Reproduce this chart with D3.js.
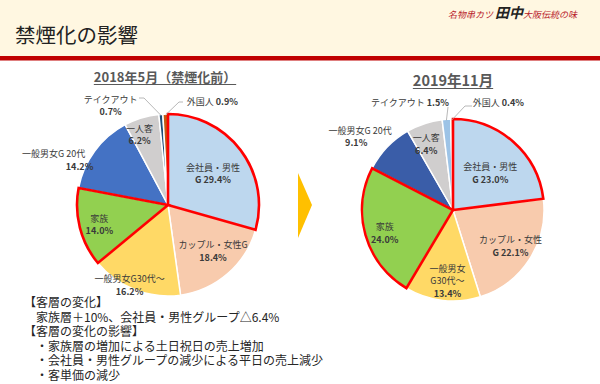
<!DOCTYPE html>
<html>
<head>
  <meta charset="utf-8">
  <title>禁煙化の影響</title>
  <style>
    body { margin: 0; background: #fff; }
    svg { display: block; font-family: "Noto Sans CJK JP", "Noto Sans", sans-serif; }
    .lbl { font-size: 9px; fill: #3a3a3a; }
    .pct { font-size: 9px; fill: #3a3a3a; font-weight: bold; }
    .note { font-size: 12px; fill: #262626; }
  </style>
</head>
<body>
  <svg width="600" height="384"></svg>

  <script src="https://d3js.org/d3.v7.min.js"></script>
  <script>
    // customer segments, clockwise from 12 o'clock
    var categories = ['会社員・男性G', 'カップル・女性G', '一般男女G30代～', '家族', '一般男女G 20代', '一人客', 'テイクアウト', '外国人'];
    var values2018 = [29.4, 18.4, 16.2, 14.0, 14.2, 6.2, 0.7, 0.9];
    var values2019 = [23.0, 22.1, 13.4, 24.0, 9.1, 6.4, 1.5, 0.4];
    var colors2018 = ['#BDD7EE', '#F8CBAD', '#FFD966', '#92D050', '#4472C4', '#D0CECE', '#1F4E79', '#C55A11'];
    var colors2019 = ['#BDD7EE', '#F8CBAD', '#FFD966', '#92D050', '#3A5DA8', '#D0CECE', '#9DC3E6', '#F4B183'];
    var highlighted = ['会社員・男性G', '家族'];

    // label text lines per pie (the % part is filled from the values)
    var labels2018 = [
      ['会社員・男性', 'G {v}'], ['カップル・女性G', '{v}'], ['一般男女G30代～', '{v}'], ['家族', '{v}'],
      ['一般男女G  20代', '{v}'], ['一人客', '{v}'], ['テイクアウト', '{v}'], ['外国人 {v}']
    ];
    var labels2019 = [
      ['会社員・男性', 'G {v}'], ['カップル・女性', 'G {v}'], ['一般男女', 'G30代～', '{v}'], ['家族', '{v}'],
      ['一般男女G  20代', '{v}'], ['一人客', '{v}'], ['テイクアウト {v}'], ['外国人 {v}']
    ];

    var notes = [
      '【客層の変化】',
      '　家族層＋10%、会社員・男性グループ△6.4%',
      '【客層の変化の影響】',
      '　・家族層の増加による土日祝日の売上増加',
      '　・会社員・男性グループの減少による平日の売上減少',
      '　・客単価の減少'
    ];

    var svg = d3.select('svg');

    // header band
    svg.append('rect').attr('x', 0).attr('y', 0).attr('width', 600).attr('height', 57).attr('fill', '#FFF7E1');
    svg.append('rect').attr('x', 0).attr('y', 56).attr('width', 600).attr('height', 4.5).attr('fill', '#C00000');
    svg.append('text').attr('x', 15).attr('y', 43)
      .style('font-size', '20.5px').style('fill', '#222')
      .text('禁煙化の影響');

    var logo = svg.append('text').attr('x', 448).attr('y', 18)
      .style('fill', '#B8202A').style('font-style', 'italic');
    logo.append('tspan').style('font-size', '9px').text('名物串カツ ');
    logo.append('tspan').style('font-size', '14px').style('font-weight', 'bold').style('fill', '#222').text('田中');
    logo.append('tspan').style('font-size', '9px').text('大阪伝統の味');

    // arrow between pies
    svg.append('path').attr('d', 'M298,173L312,205L298,238Z').attr('fill', '#FFC000');

    var radius = 91;
    var pie = d3.pie().sort(null).value(function(d) { return d; });
    var arc = d3.arc().innerRadius(0).outerRadius(radius);
    var labelArc = d3.arc().innerRadius(radius * 0.62).outerRadius(radius * 0.62);
    var edgeArc = d3.arc().innerRadius(radius).outerRadius(radius);

    function drawPie(opts) {
      var g = svg.append('g').attr('transform', 'translate(' + opts.cx + ',' + opts.cy + ')');
      var arcs = pie(opts.values);

      g.selectAll('path.slice').data(arcs).join('path')
        .attr('class', 'slice')
        .attr('d', arc)
        .attr('fill', function(d, i) { return opts.colors[i]; })
        .attr('stroke', '#fff').attr('stroke-width', 1.5);

      g.selectAll('path.hl').data(arcs.filter(function(d, i) { return highlighted.indexOf(categories[i]) >= 0; }))
        .join('path')
        .attr('class', 'hl')
        .attr('d', arc)
        .attr('fill', 'none')
        .attr('stroke', '#FF0000').attr('stroke-width', 2.6).attr('stroke-linejoin', 'miter');

      // title
      var t = svg.append('text').attr('x', opts.cx + opts.titleDx).attr('y', opts.titleY)
        .attr('text-anchor', 'middle')
        .style('font-size', opts.titleSize).style('font-weight', 'bold').style('fill', '#595959')
        .text(opts.title);
      var bb = t.node().getBBox();
      svg.append('line').attr('x1', bb.x).attr('x2', bb.x + bb.width)
        .attr('y1', opts.titleY + 2.5).attr('y2', opts.titleY + 2.5)
        .attr('stroke', '#595959').attr('stroke-width', 1);

      // leader lines for small slices
      opts.leaders.forEach(function(l) {
        var e = edgeArc.centroid(arcs[l.i]);
        g.append('polyline')
          .attr('points', [[l.x1, l.y1], [l.x2, l.y2], [e[0], e[1] + 1]].map(function(p) { return p.join(','); }).join(' '))
          .attr('fill', 'none').attr('stroke', '#A6A6A6').attr('stroke-width', 0.8);
      });

      // labels
      arcs.forEach(function(d, i) {
        var c = labelArc.centroid(d);
        var off = opts.offsets[i];
        var lines = opts.labels[i];
        var x = c[0] + off[0], y = c[1] + off[1];
        var lh = 12.5;
        var y0 = y - (lines.length - 1) * lh / 2 + 3;
        lines.forEach(function(line, k) {
          var txt = line.replace('{v}', d3.format('.1f')(d.data) + '%');
          var el = g.append('text')
            .attr('x', x + (off[2] && off[2][k] ? off[2][k] : 0))
            .attr('y', y0 + k * lh)
            .attr('text-anchor', 'middle');
          if (line.indexOf('{v}') > 0 && line.indexOf('G {v}') < 0) {
            var parts = line.split('{v}');
            el.attr('class', 'lbl');
            el.append('tspan').text(parts[0]);
            el.append('tspan').attr('class', 'pct').text(d3.format('.1f')(d.data) + '%');
          } else {
            el.attr('class', line.indexOf('{v}') >= 0 ? 'pct' : 'lbl').text(txt);
          }
        });
      });
    }

    drawPie({
      cx: 168, cy: 205, values: values2018, colors: colors2018, labels: labels2018,
      title: '2018年5月（禁煙化前）', titleY: 82, titleDx: -3, titleSize: '13px',
      offsets: [[0, 3], [8, 4], [-18, 28], [-14, 6], [-67, -11, [-2, 24]], [-12, -16], [-53, -43], [46, -47]],
      leaders: [{ i: 6, x1: -29, y1: -107, x2: -24, y2: -107 }, { i: 7, x1: 15, y1: -103, x2: 11, y2: -103 }]
    });

    drawPie({
      cx: 453, cy: 210, values: values2019, colors: colors2019, labels: labels2019,
      title: '2019年11月', titleY: 86, titleDx: 0, titleSize: '14.5px',
      offsets: [[0, 6], [10, 6], [1, 15], [-14, 8], [-54, -34, [2, -2]], [-9, -12], [-39, -51], [46, -51]],
      leaders: [{ i: 6, x1: -5, y1: -103, x2: -5, y2: -103 }, { i: 7, x1: 19, y1: -104, x2: 12, y2: -104 }]
    });

    // notes
    svg.append('g').selectAll('text').data(notes).join('text')
      .attr('class', 'note')
      .attr('x', 24)
      .attr('y', function(d, i) { return 307 + i * 14.6; })
      .text(function(d) { return d; });
  </script>
</body>
</html>
